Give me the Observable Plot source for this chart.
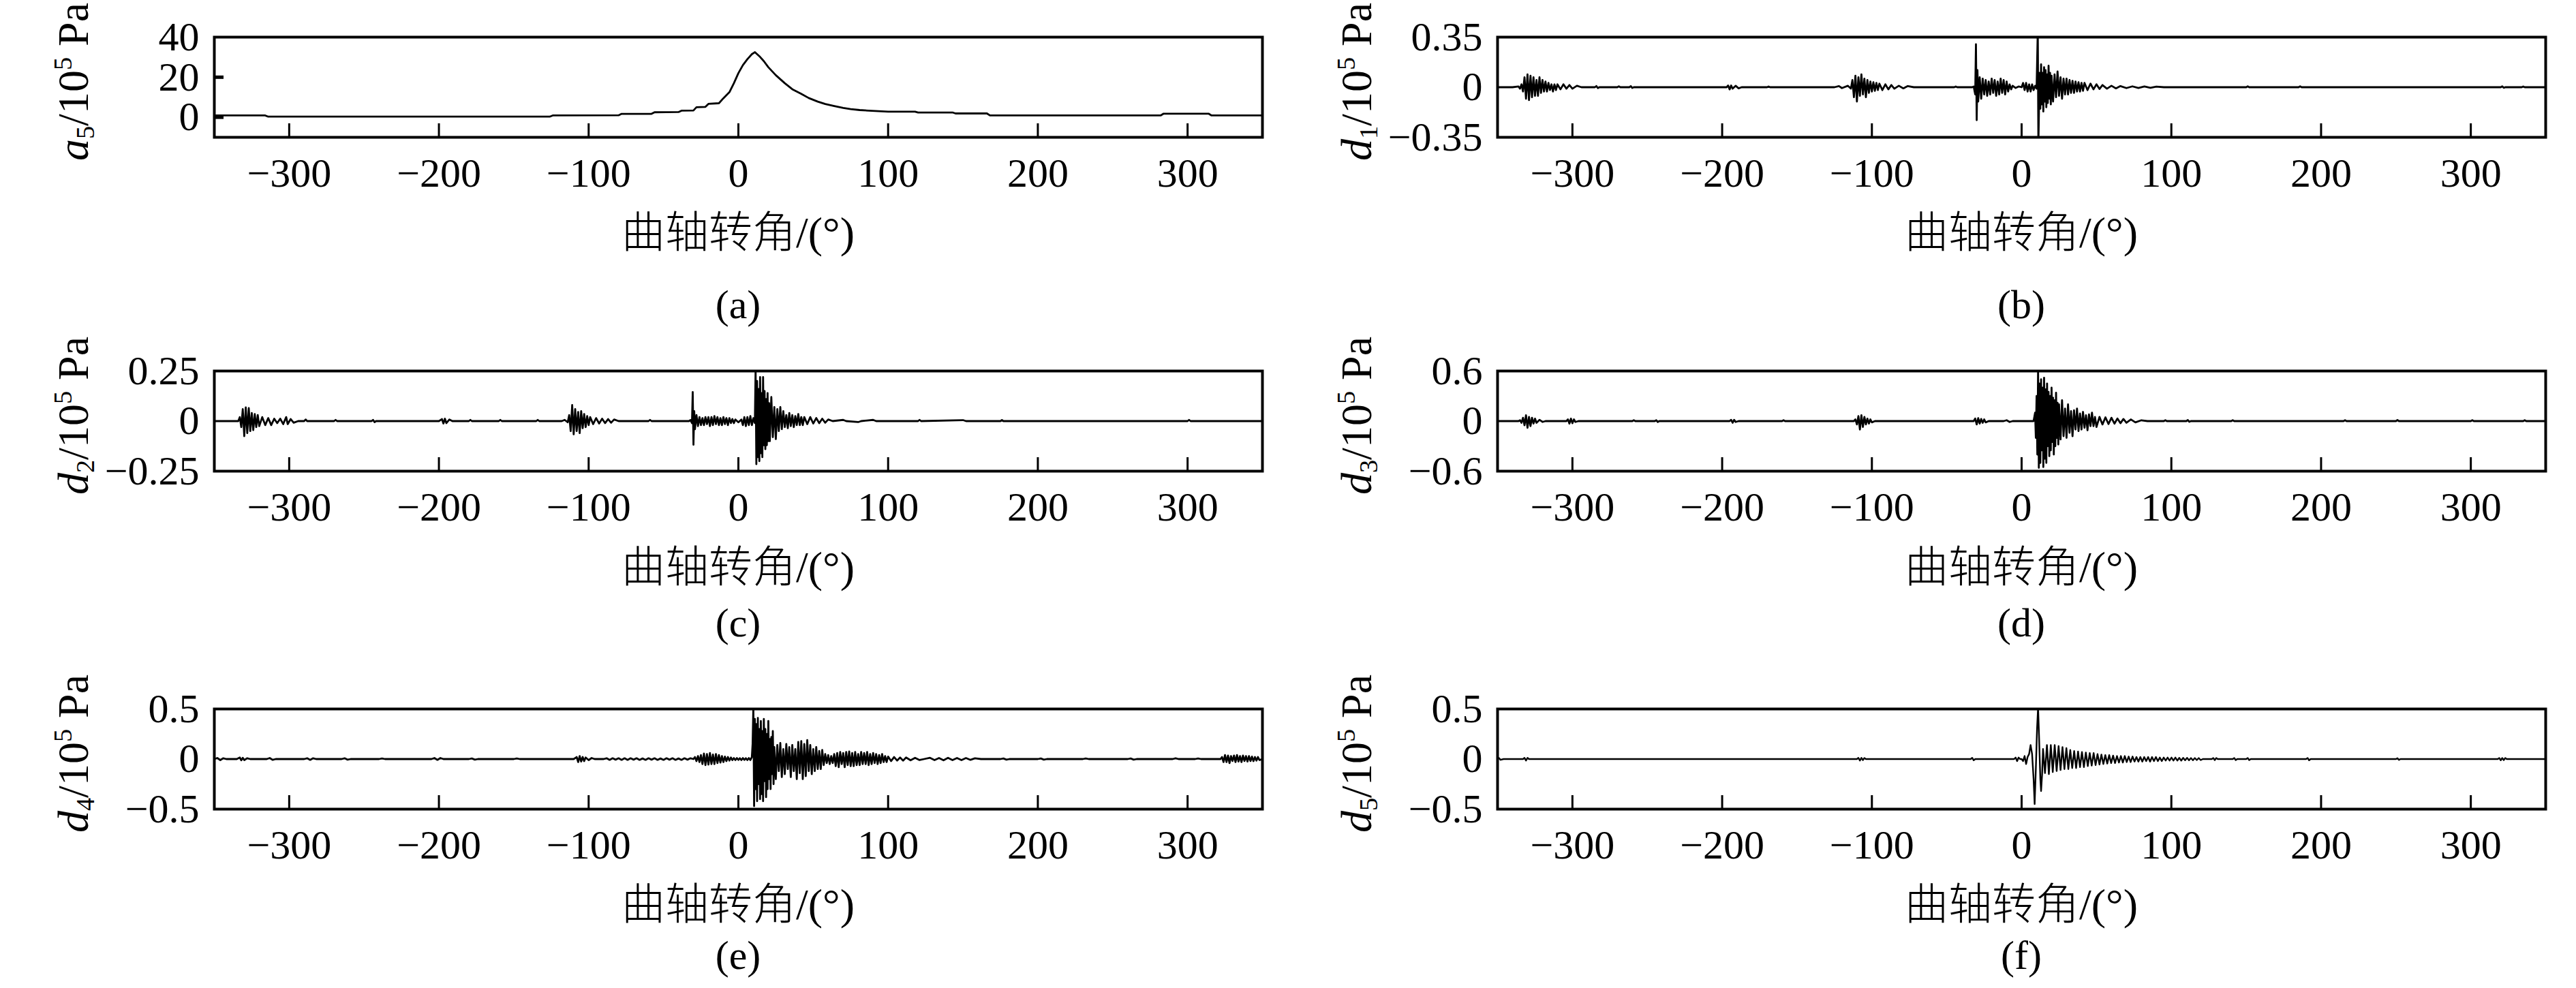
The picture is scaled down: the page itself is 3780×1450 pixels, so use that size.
<!DOCTYPE html>
<html><head><meta charset="utf-8">
<script src="https://cdn.jsdelivr.net/npm/d3@7"></script>
<script src="https://cdn.jsdelivr.net/npm/@observablehq/plot@0.6"></script>
<style>
html,body{margin:0;padding:0;background:#fff;}
#root{position:relative;width:3780px;height:1450px;overflow:hidden;font-family:"Liberation Serif","Times New Roman",serif;color:#000;background:#fff;}
.panel{position:absolute;}
.xlab{position:absolute;font-size:64px;transform:translate(-50%,-50%);white-space:nowrap;line-height:1;}
.xlab .cjk{font-family:"Noto Sans CJK SC",sans-serif;font-weight:300;}
.cap{position:absolute;font-size:60px;transform:translate(-50%,-50%);white-space:nowrap;line-height:1;}
.ylab{position:absolute;font-size:64px;white-space:nowrap;line-height:1;transform:translate(-50%,-50%) rotate(-90deg);}
.ylab sub{font-size:0.6em;vertical-align:-0.25em;}
.ylab sup{font-size:0.6em;vertical-align:0.6em;}
</style></head><body><div id="root"></div>
<script>
// ---------- data ----------
const angleDomain = [-350, 350];
const xTicks = [-300, -200, -100, 0, 100, 200, 300];
const xTitle = "曲轴转角/(°)";

const a5Ticks = [40, 20, 0];
const d1Ticks = [0.35, 0, -0.35];
const d2Ticks = [0.25, 0, -0.25];
const d3Ticks = [0.6, 0, -0.6];
const d4Ticks = [0.5, 0, -0.5];
const d5Ticks = [0.5, 0, -0.5];

const a5 = [[-350,0.9],[-316,0.9],[-314,0.3],[-126,0.3],[-124,0.9],[-80,1.0],[-78,1.7],[-58,1.7],[-56,2.5],[-40,2.6],[-38,3.3],[-30,3.4],[-28,5.0],[-22,5.2],[-20,6.7],[-13,7.0],[-10,9.5],[-6,12.5],[-3,17],[0,22],[3,26],[6,29],[9,31.5],[11,32.5],[14,30.5],[17,28],[20,25],[25,21],[31,17],[36,14],[42,11.7],[47,9.6],[53,7.8],[58,6.6],[64,5.6],[70,4.7],[75,4.1],[81,3.6],[87,3.3],[100,2.8],[118,2.8],[120,2.4],[143,2.4],[145,1.9],[166,1.9],[168,0.9],[282,0.9],[284,1.8],[314,1.8],[316,0.9],[350,0.9]];

const d1 = [[-350,0],[-340,0],[-336,0.005],[-335,-0.01],[-334,0.02],[-333,-0.03],[-332,0.07],[-331,-0.08],[-330,0.09],[-329,-0.09],[-328,0.08],[-327,-0.07],[-326,0.07],[-325,-0.06],[-324,0.05],[-323,-0.06],[-322,0.07],[-321,-0.04],[-320,0.05],[-319,-0.03],[-318,0.04],[-317,-0.03],[-316,0.03],[-315,-0.02],[-314,0.02],[-313,-0.03],[-312,0.02],[-311,-0.02],[-310,0.02],[-308,-0.015],[-306,0.02],[-304,-0.01],[-302,0.015],[-300,-0.01],[-297,0.01],[-294,0],
[-285,0],[-284,0.008],[-283,-0.006],[-282,0],[-270,0],[-269,0.006],[-268,0],[-262,0],[-261,0.007],[-260,-0.005],[-259,0],
[-197,0],[-196,0.012],[-195,-0.015],[-194,0.012],[-193,-0.01],[-191,0.01],[-189,-0.008],[-187,0],[-170,0],[-169,0.005],[-168,0],
[-125,0],[-122,0.008],[-120,-0.006],[-116,0.01],[-114,-0.01],[-113,0.05],[-112,-0.07],[-111,0.08],[-110,-0.1],[-109,0.07],[-108,-0.06],[-107,0.09],[-106,-0.05],[-105,0.06],[-104,-0.07],[-103,0.05],[-102,-0.04],[-101,0.04],[-100,-0.03],[-99,0.035],[-98,-0.025],[-97,0.03],[-96,-0.02],[-95,0.025],[-93,-0.02],[-91,0.02],[-89,-0.015],[-87,0.015],[-85,-0.01],[-82,0.01],[-79,-0.008],[-76,0.008],[-72,0],
[-45,0],[-44,0.005],[-43,0],
[-33,0],[-32,0.005],[-31,-0.05],[-30.5,0.30],[-30,-0.23],[-29.5,0.12],[-29,-0.1],[-28,0.07],[-27,-0.08],[-26,0.06],[-25,-0.05],[-24,0.05],[-23,-0.06],[-22,0.04],[-21,-0.05],[-20,0.06],[-19,-0.04],[-18,0.05],[-17,-0.06],[-16,0.04],[-15,-0.05],[-14,0.06],[-13,-0.04],[-12,0.05],[-11,-0.05],[-10,0.04],[-9,-0.03],[-8,0.02],[-7,-0.015],[-6,0.01],[-4,-0.005],[-2,0.005],[0,0],
[1,0.03],[2,-0.02],[3,0.03],[4,-0.03],[5,0.02],[6,-0.03],[7,0.02],[8,-0.02],[9,0.01],[10,-0.01],[10.8,0.4],[11.2,-0.4],
[12,0.1],[12.5,-0.15],[13,0.16],[13.5,-0.12],[14,0.1],[14.5,-0.17],[15,0.14],[15.5,-0.1],[16,0.12],[16.5,-0.14],[17,0.09],[17.5,-0.11],[18,0.15],[18.5,-0.08],[19,0.1],[19.5,-0.12],[20,0.08],[21,-0.1],[22,0.09],[23,-0.07],[24,0.11],[25,-0.06],[26,0.07],[27,-0.08],[28,0.06],[29,-0.05],[30,0.06],[31,-0.05],[32,0.05],[33,-0.04],[34,0.045],[35,-0.04],[36,0.04],[37,-0.03],[38,0.035],[39,-0.03],[40,0.03],[41,-0.025],[42,0.03],[44,-0.02],[46,0.025],[48,-0.015],[50,0.02],[52,-0.012],[54,0.015],[57,-0.01],[60,0.01],[63,-0.008],[66,0.008],[70,-0.006],[74,0.006],[78,-0.005],[82,0.005],[86,-0.004],[90,0.004],[95,0],
[150,0],[151,0.006],[152,0],[185,0],[186,0.006],[187,0],[320,0],[321,0.006],[322,-0.004],[323,0],[334,0],[335,0.005],[336,0],[350,0]];

const d2 = [[-350,0],[-334,0],[-333,0.02],[-332,-0.03],[-331,0.06],[-330,-0.075],[-329,0.068],[-328,-0.06],[-327,0.065],[-326,-0.05],[-325,0.04],[-324,-0.045],[-323,0.035],[-322,-0.03],[-321,0.03],[-320,-0.025],[-318,0.02],[-316,-0.02],[-314,0.015],[-312,-0.02],[-310,0.012],[-308,-0.01],[-306,0.012],[-304,-0.015],[-302,0.02],[-301,-0.015],[-299,0.01],[-297,-0.008],[-294,0],
[-290,0],[-289,0.008],[-288,0],[-270,0],[-269,0.006],[-268,0],[-245,0],[-244,0.006],[-243,-0.005],[-242,0],
[-200,0],[-198,0.01],[-197,-0.012],[-196,0.012],[-195,-0.01],[-193,0.008],[-191,0],[-180,0],[-179,0.006],[-178,0],[-160,0],[-159,0.006],[-158,0],[-135,0],[-134,0.006],[-133,0],
[-118,0],[-116,0.006],[-114,-0.006],[-113,0.03],[-112,-0.05],[-111,0.08],[-110,-0.066],[-109,0.06],[-108,-0.05],[-107,0.045],[-106,-0.06],[-105,0.05],[-104,-0.035],[-103,0.035],[-102,-0.03],[-101,0.025],[-100,-0.02],[-99,0.02],[-97,-0.015],[-95,0.015],[-93,-0.012],[-91,0.012],[-89,-0.01],[-87,0.01],[-85,-0.008],[-83,0.008],[-80,0],
[-60,0],[-59,0.006],[-58,0],
[-33,0],[-32,0.005],[-31,-0.01],[-30.5,0.145],[-30,-0.118],[-29.5,0.05],[-29,-0.04],[-28,0.03],[-27,-0.025],[-26,0.02],[-25,-0.02],[-24,0.015],[-23,-0.02],[-22,0.02],[-21,-0.015],[-20,0.02],[-19,-0.025],[-18,0.02],[-17,-0.02],[-16,0.025],[-15,-0.015],[-14,0.02],[-13,-0.02],[-12,0.015],[-11,-0.02],[-10,0.02],[-9,-0.015],[-8,0.015],[-7,-0.02],[-6,0.015],[-5,-0.01],[-4,0.01],[-3,-0.01],[-2,0.008],[0,-0.006],[2,0.008],
[3,-0.02],[4,0.02],[5,-0.025],[6,0.02],[7,-0.02],[8,0.025],[9,-0.02],[10,0.015],[11,-0.01],
[11.5,0.26],[12,-0.215],[12.5,0.2],[13,-0.18],[13.5,0.16],[14,-0.2],[14.5,0.22],[15,-0.16],[15.5,0.14],[16,-0.18],[16.5,0.22],[17,-0.12],[17.5,0.15],[18,-0.14],[18.5,0.11],[19,-0.12],[19.5,0.14],[20,-0.1],[20.5,0.09],[21,-0.1],[22,0.12],[23,-0.08],[24,0.07],[25,-0.09],[26,0.06],[27,-0.05],[28,0.07],[29,-0.04],[30,0.05],[31,-0.03],[32,0.03],[33,-0.035],[34,0.04],[35,-0.025],[36,0.03],[37,-0.03],[38,0.025],[39,-0.02],[40,0.035],[41,-0.02],[42,0.02],[43,-0.02],[44,0.02],[46,-0.015],[48,0.02],[50,-0.012],[52,0.015],[54,-0.01],[56,0.012],[58,-0.008],[60,0.008],[63,0],
[70,0.006],[72,0],[80,-0.005],[82,0],[90,0.006],[92,0],[120,0],[121,0.006],[122,0],[150,0.005],[152,0],[175,0],[176,0.005],[177,0],[300,0],[301,0.006],[302,0],[350,0]];

const d3 = [[-350,0],[-336,0],[-335,0.01],[-334,-0.02],[-333,0.04],[-332,-0.05],[-331,0.07],[-330,-0.08],[-329,0.05],[-328,-0.06],[-327,0.04],[-326,-0.03],[-325,0.03],[-324,-0.02],[-322,0.015],[-320,-0.01],[-318,0],
[-304,0],[-303,0.02],[-302,-0.03],[-301,0.03],[-300,-0.025],[-299,0.02],[-298,-0.01],[-296,0],
[-260,0],[-259,0.01],[-258,0],[-245,0],[-244,0.01],[-243,-0.01],[-242,0],
[-195,0],[-194,0.015],[-193,-0.02],[-192,0.015],[-191,-0.01],[-189,0],[-160,0],[-159,0.01],[-158,0],
[-112,0],[-111,0.02],[-110,-0.04],[-109,0.06],[-108,-0.1],[-107,0.07],[-106,-0.07],[-105,0.05],[-104,-0.04],[-103,0.03],[-102,-0.03],[-101,0.02],[-100,-0.015],[-98,0],
[-32,0],[-31,0.03],[-30,-0.04],[-29,0.035],[-28,-0.03],[-27,0.025],[-26,-0.02],[-25,0.02],[-24,-0.015],[-22,0],
[-12,0],[-10,0.01],[-8,-0.01],[-6,0],
[8,0],[9,0.1],[9.5,-0.2],[10,0.3],[10.5,-0.4],[11,0.62],[11.5,-0.56],[12,0.45],[12.5,-0.5],[13,0.5],[13.5,-0.35],[14,0.4],[14.5,-0.55],[15,0.52],[15.5,-0.45],[16,0.38],[16.5,-0.5],[17,0.45],[17.5,-0.3],[18,0.35],[18.5,-0.42],[19,0.3],[19.5,-0.35],[20,0.4],[20.5,-0.25],[21,0.28],[21.5,-0.4],[22,0.25],[22.5,-0.3],[23,0.34],[23.5,-0.2],[24,0.22],[24.5,-0.28],[25,0.2],[26,-0.22],[27,0.25],[28,-0.18],[29,0.15],[30,-0.2],[31,0.2],[32,-0.14],[33,0.12],[34,-0.18],[35,0.13],[36,-0.1],[37,0.15],[38,-0.12],[39,0.09],[40,-0.1],[41,0.11],[42,-0.08],[43,0.07],[44,-0.11],[45,0.08],[46,-0.06],[47,0.1],[48,-0.06],[49,0.05],[50,-0.07],[52,0.05],[54,-0.04],[56,0.045],[58,-0.035],[60,0.04],[62,-0.03],[64,0.03],[66,-0.025],[68,0.025],[70,-0.02],[73,0.02],[76,-0.015],[80,0.01],[84,0],
[95,0],[96,0.01],[97,0],[110,0],[111,0.012],[112,-0.008],[113,0],[140,0],[141,0.01],[142,0],[215,0],[216,0.01],[217,0],[250,0],[251,0.012],[252,0],[300,0],[301,0.01],[302,0],[335,0],[336,0.01],[337,0],[350,0]];

const d4 = [[-350,0],[-348,0.01],[-346,-0.01],[-344,0.008],[-342,0],[-335,0],[-333,0.015],[-332,-0.012],[-331,0.012],[-330,-0.01],[-328,0.008],[-326,0],[-315,0],[-313,0.01],[-311,-0.008],[-309,0],
[-290,0],[-288,0.008],[-286,-0.008],[-284,0.008],[-282,0],[-265,0],[-263,0.008],[-261,-0.006],[-259,0],[-240,0],[-238,0.006],[-236,0],
[-205,0],[-203,0.01],[-201,-0.008],[-199,0.01],[-197,0],[-180,0],[-178,0.006],[-176,-0.006],[-174,0],[-150,0],[-148,0.006],[-146,0],
[-110,0],[-108,0.02],[-107,-0.03],[-106,0.03],[-105,-0.025],[-104,0.02],[-103,-0.02],[-102,0.015],[-100,-0.01],[-98,0.01],[-96,0],
[-90,0],[-88,0.008],[-86,-0.008],[-84,0.008],[-82,-0.006],[-80,0.008],[-78,-0.008],[-76,0.008],[-74,-0.008],[-72,0.008],[-70,-0.006],[-68,0.008],[-66,-0.008],[-64,0.006],[-62,-0.008],[-60,0.008],[-58,-0.006],[-56,0.008],[-54,-0.008],[-52,0.006],[-50,-0.008],[-48,0.008],[-46,-0.006],[-44,0.008],[-42,-0.008],[-40,0.006],[-38,-0.008],[-36,0.008],[-34,-0.006],[-32,0.008],
[-30,0],[-29,0.02],[-28,-0.02],[-27,0.03],[-26,-0.03],[-25,0.04],[-24,-0.05],[-23,0.055],[-22,-0.06],[-21,0.05],[-20,-0.055],[-19,0.06],[-18,-0.05],[-17,0.045],[-16,-0.05],[-15,0.05],[-14,-0.04],[-13,0.04],[-12,-0.035],[-11,0.03],[-10,-0.03],[-9,0.025],[-8,-0.02],[-7,0.02],[-6,-0.015],[-5,0.015],[-4,-0.01],[-3,0.01],[-2,-0.01],[-1,0.01],[0,-0.008],[1,0.008],[2,-0.01],[3,0.01],[4,-0.008],[5,0.008],[6,-0.01],[7,0.01],[8,-0.01],[9,0.02],
[9.5,0.15],[10,0.52],[10.5,-0.47],[11,0.4],[11.5,-0.3],[12,0.35],[12.5,-0.42],[13,0.41],[13.5,-0.25],[14,0.3],[14.5,-0.4],[15,0.38],[15.5,-0.35],[16,0.28],[16.5,-0.42],[17,0.4],[17.5,-0.22],[18,0.3],[18.5,-0.38],[19,0.25],[19.5,-0.3],[20,0.38],[20.5,-0.2],[21,0.2],[21.5,-0.3],[22,0.22],[22.5,-0.15],[23,0.28],[23.5,-0.25],[24,0.12],[25,-0.2],[26,0.14],[27,-0.12],[28,0.16],[29,-0.18],[30,0.1],[31,-0.15],[32,0.15],[33,-0.1],[34,0.12],[35,-0.18],[36,0.14],[37,-0.12],[38,0.1],[39,-0.2],[40,0.17],[41,-0.14],[42,0.18],[43,-0.2],[44,0.15],[45,-0.17],[46,0.19],[47,-0.12],[48,0.14],[49,-0.15],[50,0.1],[51,-0.12],[52,0.12],[53,-0.1],[54,0.08],[55,-0.1],[56,0.09],[57,-0.06],
[58,0.05],[59,-0.04],[60,0.04],[61,-0.05],[62,0.03],[63,-0.04],[64,0.05],[65,-0.07],[66,0.06],[67,-0.08],[68,0.07],[69,-0.05],[70,0.06],[71,-0.08],[72,0.07],[73,-0.06],[74,0.075],[75,-0.07],[76,0.06],[77,-0.07],[78,0.07],[79,-0.06],[80,0.05],[81,-0.06],[82,0.07],[83,-0.05],[84,0.06],[85,-0.05],[86,0.07],[87,-0.06],[88,0.05],[89,-0.05],[90,0.06],[91,-0.04],[92,0.05],[93,-0.05],[94,0.04],[95,-0.04],[96,0.05],[97,-0.03],[98,0.03],[99,-0.03],[100,0.025],[102,-0.02],[104,0.02],[106,-0.015],[108,0.015],[110,-0.015],[112,0.015],[115,-0.012],[118,0.012],[121,-0.01],[124,0],[128,0.012],[131,-0.01],[134,0.01],[137,-0.012],[140,0.012],[143,-0.01],[146,0.01],[149,-0.01],[152,0.01],[155,-0.008],[158,0.008],[162,0],
[175,0],[177,0.006],[179,-0.006],[181,0],[200,0],[202,0.006],[204,-0.006],[206,0],[230,0],[232,0.006],[234,0],[260,0],[262,0.006],[264,-0.006],[266,0],[290,0],[292,0.008],[294,0],[305,0],[307,0.006],[309,0],
[322,0],[323,0.02],[324,-0.03],[325,0.04],[326,-0.03],[327,0.035],[328,-0.04],[329,0.03],[330,-0.02],[331,0.035],[332,-0.03],[333,0.04],[334,-0.025],[335,0.03],[336,-0.03],[337,0.035],[338,-0.02],[339,0.03],[340,-0.025],[341,0.03],[342,-0.02],[343,0.025],[344,-0.02],[345,0.02],[346,-0.015],[347,0.02],[348,-0.01],[350,0]];

const d5 = [[-350,0],[-349,0.01],[-348,-0.008],[-346,0],[-333,0],[-332,0.012],[-331,-0.015],[-330,0.012],[-329,0],
[-110,0],[-109,0.012],[-108,-0.015],[-107,0.012],[-106,-0.01],[-105,0.01],[-104,0],
[-34,0],[-33,0.012],[-32,-0.012],[-31,0],[-5,0],[-4,0.015],[-3,-0.02],[-2,0.015],[-1,0],
[0,0],[1,-0.02],[2,0.03],[3,-0.05],[4,0.02],[5,0.05],[6,0.14],[7,0.05],[8,-0.2],[8.7,-0.45],[9.5,-0.1],[10.3,0.3],[11,0.52],[11.7,0.2],[12.5,-0.2],[13,-0.32],[13.7,-0.15],
[14.3,0.1],[15.6,-0.14],[16.9,0.14],[18.2,-0.15],[19.5,0.14],[20.8,-0.13],[22.1,0.14],[23.4,-0.12],[24.7,0.13],[26,-0.11],[27.3,0.12],[28.6,-0.1],[29.9,0.11],[31.2,-0.1],[32.5,0.09],[33.8,-0.09],[35.1,0.08],[36.4,-0.09],[37.7,0.075],[39,-0.08],[40.3,0.07],[41.6,-0.08],[42.9,0.065],[44.2,-0.07],[45.5,0.06],[46.8,-0.065],[48.1,0.06],[49.4,-0.06],[50.7,0.05],[52,-0.055],[53.3,0.045],[54.6,-0.05],[55.9,0.04],[57.2,-0.045],[58.5,0.04],[59.8,-0.04],[61.1,0.035],[62.4,-0.04],[63.7,0.03],[65,-0.035],[66.3,0.03],[67.6,-0.035],[68.9,0.03],[70.2,-0.03],[71.5,0.025],[72.8,-0.03],[74.1,0.025],[75.4,-0.025],[76.7,0.02],[78,-0.025],[79.3,0.02],[80.6,-0.025],[81.9,0.02],[83.2,-0.02],[84.5,0.02],[85.8,-0.025],[87.1,0.02],[88.4,-0.02],[89.7,0.02],[91,-0.02],[92.3,0.015],[93.6,-0.02],[94.9,0.015],[96.2,-0.015],[97.5,0.015],[98.8,-0.015],[100.1,0.015],[101.4,-0.015],[102.7,0.015],[104,-0.015],[105.3,0.012],[106.6,-0.015],[107.9,0.012],[109.2,-0.012],[110.5,0.012],[111.8,-0.012],[113.1,0.01],[114.4,-0.012],[115.7,0.01],[117,-0.01],[118.3,0.01],[119.6,-0.01],[121,0],
[127,0],[128,0.01],[129,-0.01],[130,0.01],[131,0],[141,0],[142,0.01],[143,-0.01],[144,0],[150,0],[151,0.01],[152,-0.01],[153,0],[190,0],[191,0.01],[192,-0.012],[193,0],[250,0],[251,0.008],[252,-0.008],[253,0],[318,0],[319,0.01],[320,-0.012],[321,0.01],[322,-0.01],[323,0.01],[324,0],[350,0]];

const aLabel = '<i>a</i><sub>5</sub>/10<sup>5</sup> Pa';
const dLabel = n => `<i>d</i><sub>${n}</sub>/10<sup>5</sup> Pa`;

// ---------- layout ----------
const FW = 1538, FH = 147;
const colX = [314, 2197];
const rowTop = [54, 544, 1040];
const xLabY = [338, 829, 1324];
const capY = [447, 914, 1402];

const panels = [
  {series: a5, yDomain: [-10, 40], yTicks: a5Ticks, yIn: [20, 0], label: aLabel, cap: "(a)", col: 0, row: 0, sw: 2.8},
  {series: d1, yDomain: [-0.35, 0.35], yTicks: d1Ticks, label: dLabel(1), cap: "(b)", col: 1, row: 0, sw: 2.8},
  {series: d2, yDomain: [-0.25, 0.25], yTicks: d2Ticks, label: dLabel(2), cap: "(c)", col: 0, row: 1, sw: 2.8},
  {series: d3, yDomain: [-0.6, 0.6], yTicks: d3Ticks, label: dLabel(3), cap: "(d)", col: 1, row: 1, sw: 2.8},
  {series: d4, yDomain: [-0.5, 0.5], yTicks: d4Ticks, label: dLabel(4), cap: "(e)", col: 0, row: 2, sw: 2.8},
  {series: d5, yDomain: [-0.5, 0.5], yTicks: d5Ticks, label: dLabel(5), cap: "(f)", col: 1, row: 2, sw: 2.4}
];

const fmt = d => d < 0 ? "\u2212" + Math.abs(d) : String(d);
const root = document.getElementById("root");
const mL = 170, mR = 40, mT = 40, mB = 110;

for (const p of panels) {
  const x0 = colX[p.col], top = rowTop[p.row];
  const pts = p.series.map(([x, y]) => ({x, y}));
  const marks = [
    Plot.line(pts, {x: "x", y: "y", stroke: "#000", strokeWidth: p.sw, clip: true}),
    Plot.tickX(xTicks, {x: d => d, stroke: "#000", strokeWidth: 3, insetTop: FH - 20}),
    Plot.frame({stroke: "#000", strokeWidth: 4}),
    Plot.axisX({ticks: xTicks, tickSize: 0, tickPadding: 30, fontSize: 60, label: null, tickFormat: fmt}),
    Plot.axisY({ticks: p.yTicks, tickSize: 0, tickPadding: 22, fontSize: 60, label: null, tickFormat: fmt})
  ];
  if (p.yIn) marks.push(Plot.tickY(p.yIn, {y: d => d, stroke: "#000", strokeWidth: 5, insetRight: FW - 14}));
  const svg = Plot.plot({
    width: FW + mL + mR, height: FH + mT + mB,
    marginLeft: mL, marginRight: mR, marginTop: mT, marginBottom: mB,
    x: {domain: angleDomain},
    y: {domain: p.yDomain},
    style: {fontFamily: '"Liberation Serif","Times New Roman",serif', background: "transparent", color: "#000", overflow: "visible"},
    marks
  });
  svg.classList.add("panel");
  svg.style.left = (x0 - mL) + "px";
  svg.style.top = (top - mT) + "px";
  root.appendChild(svg);

  const yl = document.createElement("div");
  yl.className = "ylab";
  yl.innerHTML = p.label;
  yl.style.left = (x0 - 205) + "px";
  yl.style.top = (top + FH / 2 - 8) + "px";
  root.appendChild(yl);

  const xl = document.createElement("div");
  xl.className = "xlab";
  xl.innerHTML = `<span class="cjk">${xTitle.slice(0, 4)}</span>${xTitle.slice(4)}`;
  xl.style.left = (x0 + FW / 2) + "px";
  xl.style.top = xLabY[p.row] + "px";
  root.appendChild(xl);

  const cp = document.createElement("div");
  cp.className = "cap";
  cp.textContent = p.cap;
  cp.style.left = (x0 + FW / 2) + "px";
  cp.style.top = capY[p.row] + "px";
  root.appendChild(cp);
}
</script>
</body></html>
